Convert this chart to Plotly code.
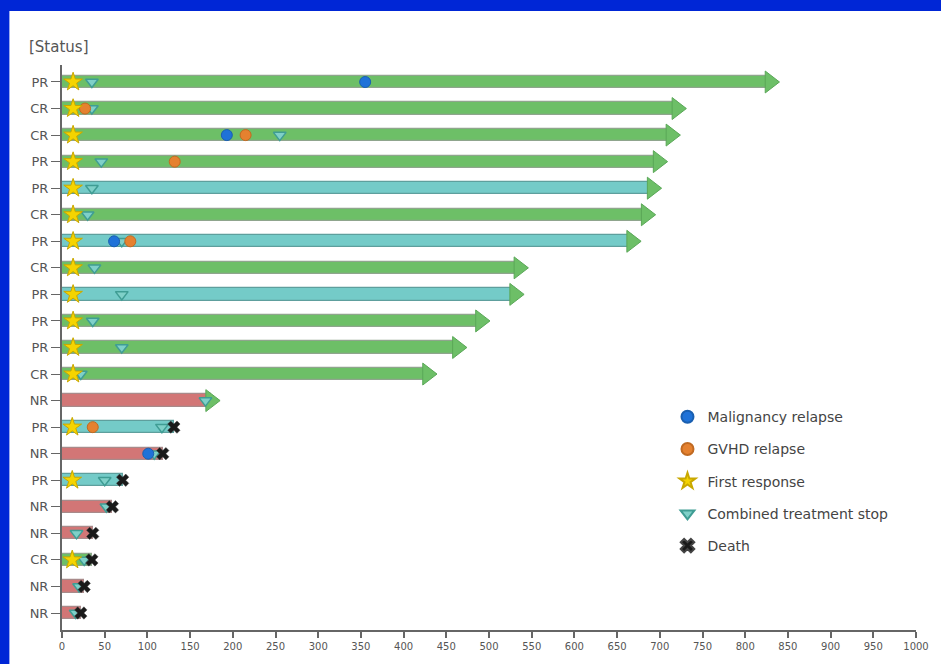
import plotly.graph_objects as go

# Patient rows, top to bottom
status = ["PR", "CR", "CR", "PR", "PR", "CR", "PR", "CR", "PR", "PR", "PR", "CR",
          "NR", "PR", "NR", "PR", "NR", "NR", "CR", "NR", "NR"]
# response class used for the bar colour
bar_class = ["CR", "CR", "CR", "CR", "PR", "CR", "PR", "CR", "PR", "CR", "CR", "CR",
             "NR", "PR", "NR", "PR", "NR", "NR", "CR", "NR", "NR"]
# follow-up length (days)
follow_up = [829, 720, 713, 698, 691, 684, 667, 535, 530, 490, 463, 428,
             174, 131, 118, 71, 59, 36, 35, 26, 22]
# still ongoing at data cut-off (arrow)
ongoing = [True] * 13 + [False] * 8

# event times (None = no event)
first_response = [13, 13, 13, 13, 13, 13, 13, 13, 13, 13, 13, 13,
                  None, 12, None, 12, None, None, 12, None, None]
treatment_stop = [35, 35, 255, 46, 35, 30, 70, 38, 70, 36, 70, 22,
                  168, 117, 108, 50, 52, 17, 26, 20, 16]
malignancy_relapse = [355, None, 193, None, None, None, 61, None, None, None, None, None,
                      None, None, 101, None, None, None, None, None, None]
gvhd_relapse = [None, 27, 215, 132, None, None, 80, None, None, None, None, None,
                None, 36, None, None, None, None, None, None, None]
death = [None] * 13 + [131, 118, 71, 59, 36, 35, 26, 22]

x_ticks = list(range(0, 1001, 50))

class_colors = {"CR": "#6dbf67", "PR": "#74cbc8", "NR": "#d27676"}
class_lines = {"CR": "#8fa58d", "PR": "#5e9f9d", "NR": "#a88a8a"}

n = len(status)
ypos = [n - 1 - i for i in range(n)]

fig = go.Figure()

fig.add_trace(go.Bar(
    x=follow_up, y=ypos, base=0, orientation="h", width=0.46,
    marker=dict(color=[class_colors[c] for c in bar_class],
                line=dict(color=[class_lines[c] for c in bar_class], width=1.2)),
    showlegend=False, hoverinfo="skip",
))

ax = [f for f, o in zip(follow_up, ongoing) if o]
ay = [y for y, o in zip(ypos, ongoing) if o]
fig.add_trace(go.Scatter(
    x=ax, y=ay, mode="markers", showlegend=False, hoverinfo="skip",
    marker=dict(symbol="triangle-right", size=19, color="#6dbf67",
                line=dict(color="#5aa757", width=1)),
))


def events(vals):
    xs, ys = [], []
    for v, y in zip(vals, ypos):
        if v is not None:
            xs.append(v)
            ys.append(y)
    return xs, ys


layers = [
    ("Combined treatment stop", treatment_stop,
     dict(symbol="triangle-down", size=11, color="#7fd0c8", line=dict(color="#3f9d94", width=1.5)), "g4"),
    ("Malignancy relapse", malignancy_relapse,
     dict(symbol="circle", size=11, color="#1f72d8", line=dict(color="#1a5fb0", width=1)), "g1"),
    ("GVHD relapse", gvhd_relapse,
     dict(symbol="circle", size=11, color="#e5812f", line=dict(color="#c06a22", width=1)), "g2"),
    ("First response", first_response,
     dict(symbol="star", size=14, color="#f5d400", line=dict(color="#c9a800", width=1)), "g3"),
    ("Death", death,
     dict(symbol="x", size=11, color="#1a1a1a", line=dict(color="#444", width=0.5)), "g5"),
]
rank = {"g1": 1, "g2": 2, "g3": 3, "g4": 4, "g5": 5}
for name, vals, mk, grp in layers:
    xs, ys = events(vals)
    fig.add_trace(go.Scatter(
        x=xs, y=ys, mode="markers", name=name, marker=mk,
        legendgroup=grp, legendrank=rank[grp], hoverinfo="x+name",
    ))

# white panel inside the blue frame
fig.add_shape(type="rect", xref="paper", yref="paper",
              x0=-0.0616, x1=1.05, y0=-0.1, y1=1.0956,
              fillcolor="white", line=dict(width=0), layer="below")

fig.add_annotation(text="[Status]", xref="paper", yref="paper",
                   x=-0.041, y=1.032, xanchor="left", yanchor="middle",
                   showarrow=False, font=dict(size=15, color="#555"))

fig.update_layout(
    width=941, height=664,
    margin=dict(l=62, r=19, t=65, b=34),
    paper_bgcolor="#0026d6", plot_bgcolor="white",
    font=dict(family="DejaVu Sans", color="#555"),
    bargap=0,
    legend=dict(x=0.709, y=0.405, xanchor="left", yanchor="top",
                bgcolor="rgba(0,0,0,0)", font=dict(size=14, color="#444"),
                tracegroupgap=11, itemwidth=30, itemsizing="constant"),
    xaxis=dict(range=[0, 1000], tickvals=x_ticks, ticktext=[str(t) for t in x_ticks],
               showgrid=False, zeroline=False, showline=True, linecolor="#666",
               linewidth=2, ticks="outside", ticklen=6, tickwidth=1.5, tickcolor="#666",
               tickfont=dict(size=10, color="#555")),
    yaxis=dict(range=[-0.64, n - 1 + 0.64], tickvals=ypos, ticktext=status,
               showgrid=False, zeroline=False, showline=True, linecolor="#666",
               linewidth=2, ticks="outside", ticklen=9, tickwidth=1.2, tickcolor="#666",
               tickfont=dict(size=13, color="#555")),
)

fig.write_html("out.html")
